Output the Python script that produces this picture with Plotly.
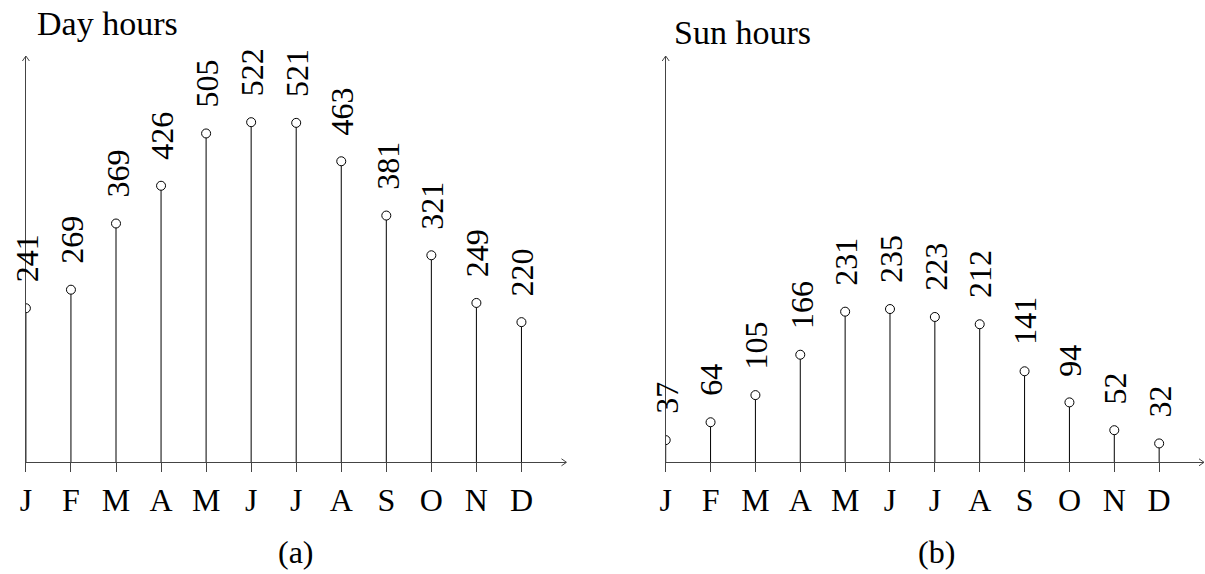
import plotly.graph_objects as go

months = ["J", "F", "M", "A", "M", "J", "J", "A", "S", "O", "N", "D"]
day_hours = [241, 269, 369, 426, 505, 522, 521, 463, 381, 321, 249, 220]
sun_hours = [37, 64, 105, 166, 231, 235, 223, 212, 141, 94, 52, 32]

W, H = 1205, 574
FONT = "Liberation Serif"
FS = 32

def px(x):
    return x / W

def py(y):
    return (H - y) / H

fig = go.Figure()

panels = [
    dict(vals=day_hours, xa="x", ya="y", yrange=[8.3, 622], xdom=[px(20), px(563.3)]),
    dict(vals=sun_hours, xa="x2", ya="y2", yrange=[3.5, 617.2], xdom=[px(663), px(1204)]),
]
ydom = [py(462.3), py(56)]

for p in panels:
    idx = list(range(len(p["vals"])))
    base = p["yrange"][0]
    sx, sy = [], []
    for i, v in zip(idx, p["vals"]):
        sx += [i, i, None]
        sy += [base, v, None]
    fig.add_trace(go.Scatter(x=sx, y=sy, mode="lines", xaxis=p["xa"], yaxis=p["ya"],
                             line=dict(color="black", width=1), hoverinfo="skip", showlegend=False))
    fig.add_trace(go.Scatter(x=idx, y=p["vals"], mode="markers", xaxis=p["xa"], yaxis=p["ya"],
                             marker=dict(symbol="circle", size=9, color="white",
                                         line=dict(color="black", width=1)),
                             showlegend=False))
    for i, v in zip(idx, p["vals"]):
        fig.add_annotation(x=i, y=v, xref=p["xa"], yref=p["ya"], text=str(v), showarrow=False,
                           textangle=-90, xanchor="center", yanchor="bottom", yshift=24, xshift=1,
                           font=dict(family=FONT, size=FS, color="black"))
    dom_x = p["xa"] + " domain"
    dom_y = p["ya"] + " domain"
    fig.add_shape(type="path", xref=dom_x, yref=dom_y, xsizemode="pixel", ysizemode="pixel",
                  xanchor=1, yanchor=0, path="M -5 3.5 L 0 0 L -5 -3.5",
                  line=dict(color="#444", width=1))
    fig.add_shape(type="path", xref=dom_x, yref=dom_y, xsizemode="pixel", ysizemode="pixel",
                  xanchor=0, yanchor=1, path="M -3.5 -5 L 0 0 L 3.5 -5",
                  line=dict(color="#444", width=1))

axis_common = dict(showgrid=False, zeroline=False, showline=True, linecolor="#444", linewidth=1)
for n, p in zip(["", "2"], panels):
    fig.layout["xaxis" + n] = dict(axis_common, domain=p["xdom"], range=[0, 12],
                                   anchor="y" + n, tickmode="array",
                                   tickvals=list(range(len(months))), ticktext=months,
                                   ticks="outside", ticklen=9, tickcolor="#444", tickwidth=1,
                                   tickfont=dict(family=FONT, size=FS, color="black"))
    fig.layout["yaxis" + n] = dict(axis_common, domain=ydom, range=p["yrange"],
                                   anchor="x" + n, showticklabels=False, ticks="")

titles = [("Day hours", 29, 24), ("Sun hours", 669, 33)]
for t, x, y in titles:
    fig.add_annotation(text=t, x=px(x), y=py(y), xref="paper", yref="paper", showarrow=False,
                       xanchor="left", yanchor="middle",
                       font=dict(family=FONT, size=34, color="black"))

captions = [("(a)", 291.5, 552), ("(b)", 935, 552)]
for t, x, y in captions:
    fig.add_annotation(text=t, x=px(x), y=py(y), xref="paper", yref="paper", showarrow=False,
                       xanchor="center", yanchor="middle",
                       font=dict(family=FONT, size=FS, color="black"))

fig.update_layout(width=W, height=H, margin=dict(l=0, r=0, t=0, b=0),
                  plot_bgcolor="white", paper_bgcolor="white")

fig.write_html("out.html", config={"displayModeBar": False},
               post_script="document.body.style.margin='0';document.body.style.overflow='hidden';")
